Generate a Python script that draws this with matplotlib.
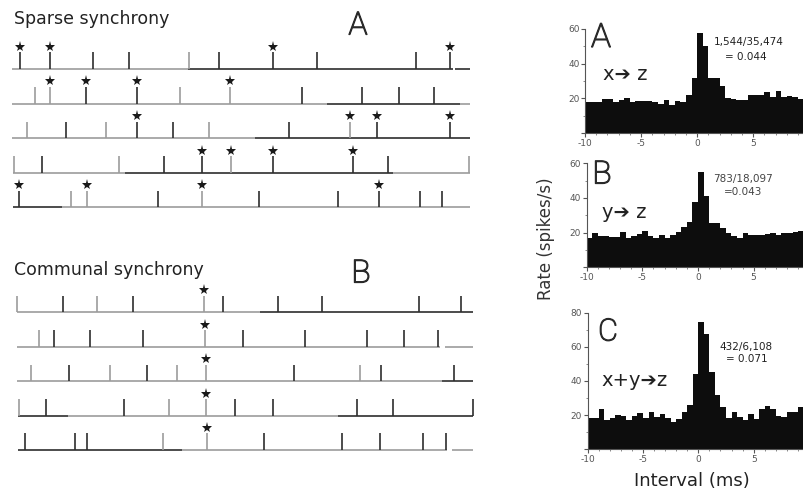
import numpy as np
import matplotlib
matplotlib.use("Agg")
import matplotlib.pyplot as plt
import matplotlib.patheffects as pe

W, H = 804, 495

# ---- spike rasters: spike times (ms from start of window), one list per neuron
sparse_spikes = [
    [9, 39, 82, 118, 178, 208, 262, 306, 405, 439],
    [24, 39, 75, 126, 169, 219, 291, 351, 388, 423],
    [16, 55, 95, 126, 162, 198, 278, 339, 366, 439],
    [3, 31, 108, 153, 191, 220, 262, 342, 377, 458],
    [8, 60, 76, 147, 191, 248, 327, 368, 409, 431],
]
# index of spikes that are synchronous (starred)
sparse_sync = [[0, 1, 6, 9], [1, 2, 3, 5], [3, 7, 8, 9], [4, 5, 6, 7], [0, 2, 4, 7]]
# index of spikes from the faint (grey) trace
sparse_faint = [[4], [0, 1, 4, 5], [0, 2, 5, 7], [0, 2, 5, 9], [1, 2, 4]]
# trace pieces: (start, end, faint)
sparse_trace = [
    [(1, 177, True), (177, 442, False), (444, 459, False)],
    [(1, 181, True), (181, 316, True), (316, 449, False), (449, 459, True)],
    [(1, 244, True), (244, 459, False)],
    [(2, 114, True), (114, 382, False), (382, 459, True)],
    [(2, 51, False), (51, 322, True), (322, 459, True)],
]

communal_spikes = [
    [6, 52, 86, 122, 193, 212, 267, 311, 408, 450],
    [28, 43, 79, 132, 194, 232, 294, 356, 393, 427],
    [20, 58, 99, 136, 166, 195, 283, 349, 370, 443],
    [8, 35, 113, 158, 195, 224, 262, 346, 382, 462],
    [14, 64, 76, 152, 196, 253, 331, 369, 412, 435],
]
communal_sync = [[4], [4], [5], [4], [4]]
communal_faint = [[0, 2, 4], [0, 4], [0, 2, 4, 5, 7], [0, 3, 4], [3, 4]]
communal_trace = [
    [(6, 249, True), (249, 462, False)],
    [(6, 167, True), (167, 429, True), (434, 462, True)],
    [(6, 431, True), (431, 462, False)],
    [(7, 57, False), (57, 327, True), (327, 462, False)],
    [(7, 171, False), (171, 436, True), (441, 462, True)],
]

# ---- cross-correlation histograms, 0.5 ms bins from -10 to 10 ms
bin_edges = np.arange(-10, 10.01, 0.5)
rate_xz = [17.7, 17.7, 17.7, 19.4, 19.4, 17.7, 18.8, 20.0, 18.0, 18.6,
           18.6, 18.6, 17.9, 16.5, 18.8, 15.9, 18.6, 17.7, 21.9, 32.0,
           57.9, 50.0, 32.0, 32.0, 27.0, 20.2, 19.6, 19.2, 19.2, 22.0,
           22.0, 22.0, 23.5, 20.6, 24.5, 20.6, 21.5, 20.6, 19.6, 22.5]
rate_yz = [17.1, 19.6, 18.3, 18.3, 17.3, 17.3, 20.2, 16.9, 18.3, 19.4,
           21.2, 18.0, 17.1, 18.5, 17.1, 18.5, 20.4, 23.5, 26.3, 37.5,
           55.2, 41.3, 25.8, 25.4, 22.5, 20.0, 18.0, 16.7, 19.6, 18.5,
           18.5, 18.5, 19.0, 19.6, 18.5, 19.6, 19.6, 20.2, 21.0, 21.5]
rate_xyz = [18.4, 18.4, 23.5, 17.1, 18.6, 20.0, 19.6, 17.3, 19.6, 21.0,
            18.4, 21.6, 18.8, 20.8, 18.1, 15.7, 18.0, 21.6, 26.2, 44.3,
            74.4, 67.6, 45.2, 32.0, 24.5, 18.4, 21.6, 19.0, 17.1, 20.4,
            18.0, 23.5, 25.4, 23.5, 19.4, 18.8, 21.6, 21.6, 24.9, 22.0]
x_ticks = [-10, -5, 0, 5, 10]
x_ticklabels = ["-10", "-5", "0", "5", ""]   # "10" falls off the right edge

DARK = "#2e2e2e"
FAINT = "#9c9c9c"
TXT = "#222222"
# thin face, thickened a little with a stroke
BIG = dict(family=["Roboto", "DejaVu Sans"], fontweight="light", color="#2a2a2a",
           path_effects=[pe.withStroke(linewidth=0.9, foreground="#2a2a2a")])

fig = plt.figure(figsize=(W / 100, H / 100), dpi=100)


def px_axes(left, top, right, bottom):
    """Axes from a pixel box (origin top-left)."""
    return fig.add_axes([left / W, 1 - bottom / H, (right - left) / W, (bottom - top) / H])


def ftext(x, y, s, **kw):
    fig.text(x / W, 1 - y / H, s, **kw)


def draw_raster(ax, spikes, sync, faint, trace):
    for row, times in enumerate(spikes):
        y0 = -row
        for a, b, f in trace[row]:
            ax.plot([a, b], [y0, y0], color=FAINT if f else DARK, lw=1.2,
                    solid_capstyle="butt")
        cols = [FAINT if i in faint[row] else DARK for i in range(len(times))]
        ax.vlines(times, y0, y0 + 0.48, colors=cols, lw=1.2)
        st = [times[i] for i in sync[row]]
        ax.plot(st, [y0 + 0.64] * len(st), ls="none", marker="*", ms=8,
                color="#1a1a1a", mew=0)
    ax.set_xlim(0, 465)
    ax.set_ylim(-4.6, 1.0)
    ax.axis("off")


def draw_hist(ax, rates, ymax):
    ax.bar(bin_edges[:-1], rates, width=0.5, align="edge", color="#0d0d0d", lw=0)
    ax.set_xlim(-10, 10)
    ax.set_ylim(0, ymax)
    ax.set_xticks(x_ticks)
    ax.set_xticklabels(x_ticklabels)
    ax.set_xticks(np.arange(-10, 11, 1), minor=True)
    major = np.arange(0, ymax + 1, 20)
    ax.set_yticks(major)
    ax.set_yticklabels([""] + [str(int(v)) for v in major[1:]])
    ax.set_yticks(np.arange(10, ymax, 20), minor=True)
    for s in ["top", "right"]:
        ax.spines[s].set_visible(False)
    for s in ["left", "bottom"]:
        ax.spines[s].set_color("#555555")
        ax.spines[s].set_linewidth(0.8)
    ax.tick_params(which="major", length=3, width=0.8, labelsize=6.5,
                   colors="#555555", pad=1)
    ax.tick_params(which="minor", length=1.5, width=0.6, colors="#777777")


# left column: rasters
ax_a = px_axes(11, 34.4, 476, 228.1)
draw_raster(ax_a, sparse_spikes, sparse_sync, sparse_faint, sparse_trace)
ax_b = px_axes(11, 277.9, 476, 470.6)
draw_raster(ax_b, communal_spikes, communal_sync, communal_faint, communal_trace)

ftext(14, 19, "Sparse synchrony", fontsize=12.5, va="center", ha="left", color=TXT)
ftext(358, 26, "A", fontsize=23, va="center", ha="center", **BIG)
ftext(14, 270, "Communal synchrony", fontsize=12.5, va="center", ha="left", color=TXT)
ftext(361, 274, "B", fontsize=23, va="center", ha="center", **BIG)

# right column: histograms (right edge runs past the figure, as in the source)
h1 = px_axes(585, 29, 809.3, 133)
draw_hist(h1, rate_xz, 60)
h2 = px_axes(586.7, 163.3, 809.3, 267.3)
draw_hist(h2, rate_yz, 60)
h3 = px_axes(587.7, 312.7, 809, 449.3)
draw_hist(h3, rate_xyz, 80)

ftext(601, 38, "A", fontsize=24, va="center", ha="center", **BIG)
ftext(603, 74, "x\u2794 z", fontsize=14, va="center", ha="left", color=TXT)
ftext(749, 42.5, "1,544/35,474", fontsize=7.5, va="center", ha="center", color=TXT)
ftext(746, 57, "= 0.044", fontsize=7.5, va="center", ha="center", color=TXT)

ftext(602, 175, "B", fontsize=23, va="center", ha="center", **BIG)
ftext(602, 213, "y\u2794 z", fontsize=14, va="center", ha="left", color=TXT)
ftext(743, 179, "783/18,097", fontsize=7.5, va="center", ha="center", color="#444444")
ftext(743, 192, "=0.043", fontsize=7.5, va="center", ha="center", color="#444444")

ftext(608, 332, "C", fontsize=22, va="center", ha="center", **BIG)
ftext(601, 380, "x+y\u2794z", fontsize=14, va="center", ha="left", color=TXT)
ftext(746, 347, "432/6,108", fontsize=7.5, va="center", ha="center", color=TXT)
ftext(747, 359, "= 0.071", fontsize=7.5, va="center", ha="center", color=TXT)

ftext(546, 239, "Rate (spikes/s)", fontsize=12, rotation=90, va="center",
      ha="center", color="#333333")
ftext(692, 481, "Interval (ms)", fontsize=13, va="center", ha="center", color=TXT)

fig.savefig("out.png", dpi=100, facecolor="white")
